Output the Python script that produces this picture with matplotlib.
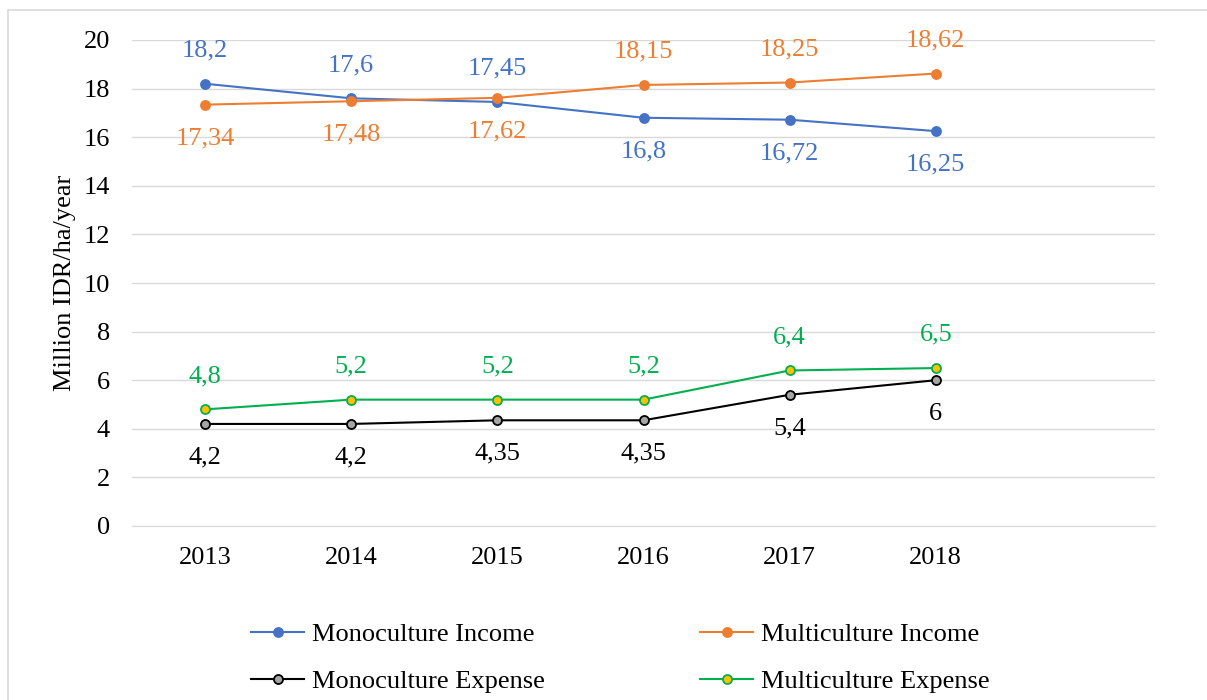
import matplotlib.pyplot as plt
from matplotlib.patches import Rectangle

plt.rcParams['font.family'] = ['Liberation Serif', 'DejaVu Serif']
plt.rcParams['font.size'] = 19

years = ['2013', '2014', '2015', '2016', '2017', '2018']
mono_income = [18.2, 17.6, 17.45, 16.8, 16.72, 16.25]
multi_income = [17.34, 17.48, 17.62, 18.15, 18.25, 18.62]
mono_expense = [4.2, 4.2, 4.35, 4.35, 5.4, 6.0]
multi_expense = [4.8, 5.2, 5.2, 5.2, 6.4, 6.5]

# label side: 1 above, -1 below
mono_income_pos = [1, 1, 1, -1, -1, -1]
multi_income_pos = [-1, -1, -1, 1, 1, 1]
mono_expense_pos = [-1, -1, -1, -1, -1, -1]
multi_expense_pos = [1, 1, 1, 1, 1, 1]

fig = plt.figure(figsize=(12.07, 7), dpi=100)
fig.patches.append(Rectangle((8 / 1207, -0.1), 1.2, 1.1 - 10 / 700,
                             transform=fig.transFigure, fill=False,
                             edgecolor='#d9d9d9', linewidth=1.2))
ax = fig.add_axes([132 / 1207, 1 - 526 / 700, (1155 - 132) / 1207, (526 - 40) / 700])

x = list(range(len(years)))
series = [
    ('Monoculture Income', mono_income, '#4472C4', '#4472C4', '#4472C4', mono_income_pos),
    ('Multiculture Income', multi_income, '#ED7D31', '#ED7D31', '#ED7D31', multi_income_pos),
    ('Monoculture Expense', mono_expense, '#000000', '#A5A5A5', '#000000', mono_expense_pos),
    ('Multiculture Expense', multi_expense, '#00B050', '#FFC000', '#00B050', multi_expense_pos),
]

lines = {}
for name, vals, col, face, edge, pos in series:
    ln, = ax.plot(x, vals, color=col, linewidth=1.5, marker='o', markersize=6.5,
                  markerfacecolor=face, markeredgecolor=edge, markeredgewidth=1.3,
                  label=name, zorder=3)
    lines[name] = ln
    for xi, v, p in zip(x, vals, pos):
        ax.annotate(('%g' % v).replace('.', ','), (xi, v), xytext=(0, 24 * p),
                    textcoords='offset points', ha='center', va='center',
                    color=col, fontsize=19)

ax.set_xlim(-0.5, 6.5)
ax.set_ylim(0, 20)
ax.set_yticks(range(0, 21, 2))
ax.set_xticks(x)
ax.set_xticklabels(years)
ax.grid(axis='y', color='#d9d9d9', linewidth=1)
ax.set_axisbelow(True)
for s in ['top', 'right', 'left']:
    ax.spines[s].set_visible(False)
ax.spines['bottom'].set_color('#d9d9d9')
ax.tick_params(axis='y', length=0, pad=16)
ax.tick_params(axis='x', length=0, pad=15)
ax.set_ylabel('Million IDR/ha/year', fontsize=19, labelpad=5)

handles = [lines['Monoculture Income'], lines['Monoculture Expense'],
           lines['Multiculture Income'], lines['Multiculture Expense']]
fig.legend(handles, [h.get_label() for h in handles], ncol=2, frameon=False,
           loc='center left', bbox_to_anchor=(238 / 1207, 1 - 658 / 700),
           borderpad=0, columnspacing=5.9, handlelength=2.0, handletextpad=0.3,
           labelspacing=0.9, fontsize=19)

fig.savefig('out.png', dpi=100)
